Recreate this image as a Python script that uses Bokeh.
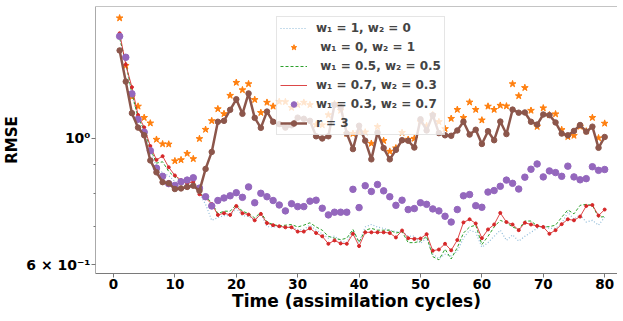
import numpy as np
from bokeh.plotting import figure
from bokeh.models import FixedTicker, Legend, LegendItem, Span, Range1d
from bokeh.embed import file_html
from bokeh.resources import INLINE

cycles = list(range(1, 81))

rmse_w1_1 = [1.50, 1.36, 1.19, 1.09, 1.03, 0.955, 0.89, 0.87, 0.86, 0.84,
             0.83, 0.825, 0.83, 0.80, 0.766, 0.718, 0.726, 0.732, 0.732, 0.754,
             0.732, 0.729, 0.718, 0.737, 0.700, 0.699, 0.699, 0.698, 0.699, 0.690,
             0.692, 0.704, 0.690, 0.680, 0.668, 0.674, 0.660, 0.656, 0.690, 0.656,
             0.699, 0.706, 0.699, 0.695, 0.689, 0.686, 0.686, 0.673, 0.674, 0.654,
             0.668, 0.626, 0.615, 0.626, 0.622, 0.634, 0.668, 0.690, 0.684, 0.644,
             0.656, 0.673, 0.690, 0.662, 0.677, 0.660, 0.673, 0.684, 0.695, 0.702,
             0.695, 0.695, 0.709, 0.742, 0.721, 0.734, 0.713, 0.718, 0.704, 0.727]

rmse_w1_0 = [1.628, 1.343, 1.184, 1.139, 1.088, 1.064, 0.996, 0.978, 0.977, 0.913,
             0.917, 0.941, 0.921, 0.999, 1.037, 1.074, 1.127, 1.105, 1.190, 1.254,
             1.217, 1.247, 1.170, 1.110, 1.157, 1.139, 1.161, 1.160, 1.133, 1.146,
             1.157, 1.146, 1.057, 1.056, 1.100, 1.150, 1.120, 1.020, 1.020, 1.026,
             1.026, 0.980, 1.049, 0.991, 0.949, 0.962, 1.024, 0.996, 1.000, 1.070,
             1.053, 1.100, 1.070, 1.040, 1.084, 1.124, 1.088, 1.158, 1.124, 1.077,
             1.139, 1.124, 1.143, 1.140, 1.247, 1.188, 1.228, 1.120, 1.049, 1.131,
             1.100, 1.104, 1.036, 1.007, 1.012, 1.050, 1.030, 1.088, 1.002, 1.063]

rmse_w1_05 = [1.50, 1.36, 1.20, 1.09, 1.035, 0.96, 0.905, 0.910, 0.875, 0.855,
              0.842, 0.835, 0.838, 0.80, 0.79, 0.772, 0.738, 0.745, 0.745, 0.765,
              0.745, 0.738, 0.725, 0.742, 0.713, 0.706, 0.702, 0.704, 0.706, 0.699,
              0.704, 0.711, 0.699, 0.690, 0.673, 0.668, 0.664, 0.668, 0.692, 0.657,
              0.690, 0.695, 0.690, 0.690, 0.690, 0.682, 0.686, 0.656, 0.656, 0.660,
              0.673, 0.620, 0.612, 0.639, 0.614, 0.643, 0.682, 0.699, 0.704, 0.651,
              0.673, 0.699, 0.718, 0.711, 0.699, 0.692, 0.716, 0.716, 0.702, 0.699,
              0.700, 0.704, 0.727, 0.749, 0.737, 0.763, 0.766, 0.763, 0.727, 0.729]

rmse_w1_07 = [1.531, 1.349, 1.231, 1.100, 1.046, 0.970, 0.917, 0.931, 0.890, 0.861,
              0.845, 0.834, 0.839, 0.798, 0.786, 0.767, 0.734, 0.739, 0.734, 0.761,
              0.739, 0.735, 0.718, 0.737, 0.710, 0.704, 0.701, 0.698, 0.698, 0.686,
              0.686, 0.695, 0.682, 0.673, 0.653, 0.662, 0.654, 0.653, 0.680, 0.647,
              0.684, 0.684, 0.684, 0.684, 0.682, 0.670, 0.689, 0.668, 0.666, 0.667,
              0.679, 0.635, 0.638, 0.653, 0.636, 0.663, 0.712, 0.721, 0.709, 0.668,
              0.692, 0.706, 0.740, 0.713, 0.706, 0.690, 0.711, 0.706, 0.702, 0.699,
              0.680, 0.690, 0.707, 0.721, 0.718, 0.729, 0.761, 0.764, 0.732, 0.750]

rmse_w1_03 = [1.512, 1.389, 1.198, 1.081, 1.026, 0.952, 0.887, 0.858, 0.833, 0.827,
              0.839, 0.845, 0.853, 0.818, 0.790, 0.761, 0.778, 0.786, 0.793, 0.803,
              0.788, 0.822, 0.771, 0.801, 0.790, 0.778, 0.764, 0.746, 0.768, 0.759,
              0.759, 0.776, 0.779, 0.754, 0.734, 0.742, 0.742, 0.742, 0.814, 0.756,
              0.826, 0.807, 0.830, 0.809, 0.790, 0.763, 0.779, 0.750, 0.753, 0.771,
              0.766, 0.752, 0.746, 0.730, 0.713, 0.750, 0.793, 0.797, 0.762, 0.757,
              0.805, 0.810, 0.824, 0.845, 0.834, 0.815, 0.855, 0.883, 0.902, 0.856,
              0.877, 0.871, 0.858, 0.894, 0.856, 0.846, 0.850, 0.892, 0.879, 0.882]

rmse_r3 = [1.428, 1.259, 1.108, 1.045, 1.013, 0.915, 0.872, 0.838, 0.834, 0.815,
           0.817, 0.822, 0.826, 0.809, 0.884, 0.947, 1.070, 1.074, 1.123, 1.172,
           1.105, 1.200, 1.087, 1.044, 1.115, 1.070, 1.060, 1.045, 1.055, 1.088,
           1.083, 1.074, 1.009, 1.000, 1.009, 1.146, 1.135, 1.020, 0.958, 1.053,
           0.991, 0.919, 1.024, 0.962, 0.919, 0.955, 0.993, 0.991, 0.964, 1.081,
           1.033, 1.099, 1.022, 1.013, 1.011, 1.033, 1.070, 1.016, 1.036, 0.978,
           1.030, 0.993, 1.071, 1.018, 1.124, 1.110, 1.111, 1.070, 1.058, 1.102,
           1.099, 1.067, 1.020, 1.013, 1.031, 1.056, 1.028, 1.049, 0.963, 1.006]

x_ticks = [0, 10, 20, 30, 40, 50, 60, 70, 80]
y_ticks = [0.6, 1.0]
y_minor_ticks = [0.7, 0.8, 0.9]
y_tick_labels = {0.6: "6 × 10⁻¹", 1: "10⁰"}
x_title = "Time (assimilation cycles)"
y_title = "RMSE"
labels = ["w₁ = 1, w₂ = 0", " w₁ = 0, w₂ = 1", " w₁ = 0.5, w₂ = 0.5",
          "w₁ = 0.7, w₂ = 0.3", "w₁ = 0.3, w₂ = 0.7", "r = 3"]

FONT = "DejaVu Sans"
FRAME_H = 267
FRAME_W = 522

p = figure(frame_width=FRAME_W, frame_height=FRAME_H, y_axis_type="log",
           x_range=Range1d(-2.93, 82.09), y_range=Range1d(0.579, 1.706),
           output_backend="svg", toolbar_location=None,
           min_border_top=6, min_border_right=0, min_border_left=85,
           min_border_bottom=0)
p.outline_line_color = None
p.grid.visible = False
p.background_fill_color = "white"

r_blue = p.line(cycles, rmse_w1_1, line_color="#1f77b4", line_alpha=0.5,
                line_width=1.2, line_dash="1 2")
r_orange = p.scatter(cycles, rmse_w1_0, marker="star", size=7,
                     fill_color="#ff7f0e", line_color="#ff7f0e")
r_green = p.line(cycles, rmse_w1_05, line_color="#2ca02c", line_width=1,
                 line_dash="3 2")
r_red_l = p.line(cycles, rmse_w1_07, line_color="#d62728", line_width=1,
                 line_alpha=0.85)
r_red_m = p.scatter(cycles, rmse_w1_07, marker="circle", size=3,
                    fill_color="#d62728", line_color="#d62728")
r_purple = p.scatter(cycles, rmse_w1_03, marker="circle", size=6.5,
                     fill_color="#9467bd", line_color="#9467bd")
r_brown_l = p.line(cycles, rmse_r3, line_color="#8c564b", line_width=2.5)
r_brown_m = p.scatter(cycles, rmse_r3, marker="circle", size=5.5,
                      fill_color="#8c564b", line_color="#8c564b")

top_spine = Span(location=1.706, dimension="width", line_color="#8a8a8a",
                 line_width=1)
p.add_layout(top_spine)

p.xaxis.ticker = FixedTicker(ticks=x_ticks, minor_ticks=[])
p.yaxis.ticker = FixedTicker(ticks=y_ticks, minor_ticks=y_minor_ticks)
p.yaxis.major_label_overrides = y_tick_labels

for ax in (p.xaxis[0], p.yaxis[0]):
    ax.major_label_text_font = FONT
    ax.major_label_text_font_style = "bold"
    ax.major_label_text_color = "black"
    ax.axis_label_text_font = FONT
    ax.axis_label_text_font_style = "bold"
    ax.axis_label_text_color = "black"
    ax.major_tick_out = 4
    ax.major_tick_in = 0
    ax.minor_tick_out = 2
    ax.minor_tick_in = 0
    ax.major_tick_line_color = "#777777"
    ax.minor_tick_line_color = "#777777"
    ax.major_label_standoff = 1

p.xaxis.major_label_text_font_size = "13.5px"
p.yaxis.major_label_text_font_size = "14px"
p.xaxis.axis_line_color = "#7a7a7a"
p.xaxis.axis_label = x_title
p.xaxis.axis_label_text_font_size = "17px"
p.xaxis.axis_label_standoff = -1
p.yaxis.axis_label = y_title
p.yaxis.axis_label_text_font_size = "15px"
p.yaxis.axis_label_standoff = 2
p.yaxis.axis_line_color = "#aaaaaa"

items = [
    LegendItem(label=labels[0], renderers=[r_blue]),
    LegendItem(label=labels[1], renderers=[r_orange]),
    LegendItem(label=labels[2], renderers=[r_green]),
    LegendItem(label=labels[3], renderers=[r_red_l]),
    LegendItem(label=labels[4], renderers=[r_purple]),
    LegendItem(label=labels[5], renderers=[r_brown_l, r_brown_m]),
]
LEG_H = 121
legend = Legend(items=items, location=(181, FRAME_H - 8 - LEG_H))
legend.label_text_font = FONT
legend.label_text_font_style = "bold"
legend.label_text_font_size = "12px"
legend.glyph_width = 27
legend.glyph_height = 14
legend.label_height = 16
legend.spacing = 3
legend.padding = 3
legend.margin = 0
legend.label_standoff = 9
legend.border_line_color = "#cccccc"
legend.background_fill_alpha = 0.8
p.add_layout(legend)

open("out.html", "w").write(file_html(p, INLINE))
